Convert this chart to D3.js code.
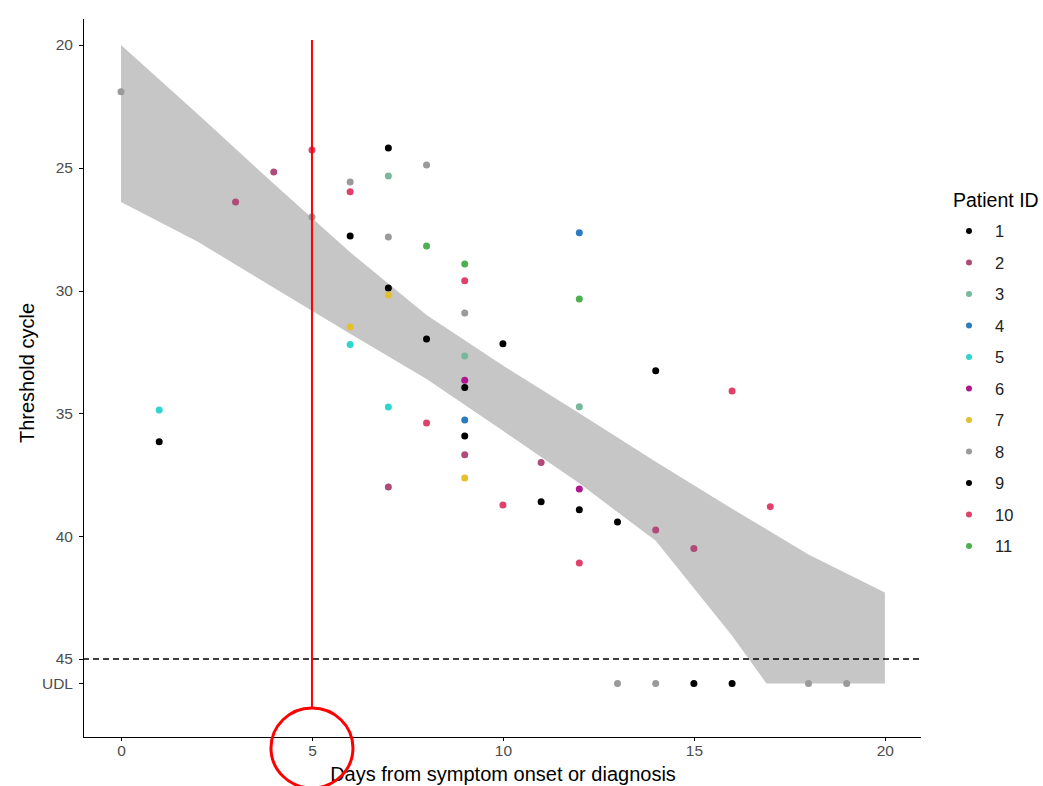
<!doctype html>
<meta charset="utf-8">
<style>
body { margin: 0; background: #fff; font-family: "Liberation Sans", Arial, sans-serif; }
.axis path, .axis line { stroke: #000; shape-rendering: crispEdges; }
.axis text { fill: #4d4d4d; font-size: 15.5px; font-family: "Liberation Sans", Arial, sans-serif; }
</style>
<body>
<script src="https://d3js.org/d3.v7.min.js"></script>
<script>
// values; UDL is plotted as Ct 46
var UDL = 46;
var patients = [1, 2, 3, 4, 5, 6, 7, 8, 9, 10, 11];
var patientColors = ["#000000", "#b04a78", "#78b89c", "#2c7bbf", "#2fd6cf", "#b0168f",
                     "#e6bf2e", "#9a9a9a", "#000000", "#e0406a", "#4cb050"];

var pointDay = [0, 1, 1, 3, 4, 5, 5,
  6, 6, 6, 6, 6,
  7, 7, 7, 7, 7, 7, 7,
  8, 8, 8, 8,
  9, 9, 9, 9, 9, 9, 9, 9, 9, 9,
  10, 10, 11, 11,
  12, 12, 12, 12, 12, 12,
  13, 13, 14, 14, 14, 15, 15, 16, 16, 17, 18, 19];
var pointCt = [21.9, 34.86, 36.16, 26.39, 25.17, 24.28, 27.0,
  25.58, 25.98, 27.78, 31.48, 32.2,
  24.19, 25.33, 27.82, 29.9, 30.18, 34.74, 38.0,
  24.89, 28.18, 31.97, 35.39,
  28.92, 29.6, 30.91, 32.66, 33.65, 33.95, 35.27, 35.92, 36.69, 37.63,
  32.17, 38.73, 37.0, 38.6,
  27.65, 30.34, 34.73, 38.08, 38.93, 41.09,
  39.42, UDL, 33.27, 39.75, UDL, 40.5, UDL, 34.09, UDL, 38.8, UDL, UDL];
var pointPatient = [8, 5, 1, 2, 2, 10, 8,
  8, 10, 1, 7, 5,
  9, 3, 8, 1, 7, 5, 2,
  8, 11, 9, 10,
  11, 10, 8, 3, 6, 9, 4, 1, 2, 7,
  9, 10, 2, 1,
  4, 11, 3, 6, 9, 10,
  1, 8, 9, 2, 8, 2, 1, 10, 9, 10, 8, 8];

// confidence band of the fitted trend (lower edge stops at UDL)
var bandDay = [0, 2, 4, 6, 8, 10, 12, 14, 16, 16.9, 18, 20];
var bandUpper = [20.0, 22.8, 25.65, 28.44, 30.99, 33.05, 35.0, 36.97, 38.88, 39.72, 40.75, 42.3];
var bandLower = [26.39, 28.0, 29.89, 31.76, 33.6, 35.71, 37.85, 40.19, 44.06, 46.0, 46.0, 46.0];

var xTicks = [0, 5, 10, 15, 20];
var yTicks = [20, 25, 30, 35, 40, 45, UDL];
var yTickLabels = ["20", "25", "30", "35", "40", "45", "UDL"];
var markDay = 5;

var width = 1043, height = 786;
var plotLeft = 83, plotRight = 920, plotTop = 18, plotBottom = 737;

var x = d3.scaleLinear().domain([-0.995, 20.92]).range([plotLeft, plotRight]);
var y = d3.scaleLinear().domain([18.9, 48.18]).range([plotTop, plotBottom]);

var svg = d3.select("body").append("svg")
  .attr("width", width)
  .attr("height", height);

// band
var band = d3.area()
  .x(function(d, i) { return x(bandDay[i]); })
  .y0(function(d, i) { return y(bandLower[i]); })
  .y1(function(d, i) { return y(bandUpper[i]); });

svg.append("path")
  .datum(bandDay)
  .attr("d", band)
  .style("fill", "#c6c6c6");

// 45 cycle cut-off
svg.append("line")
  .attr("x1", plotLeft).attr("x2", plotRight)
  .attr("y1", y(45)).attr("y2", y(45))
  .style("stroke", "#000")
  .style("stroke-width", 1.5)
  .style("stroke-dasharray", "6,4");

// points
svg.append("g").selectAll("circle")
  .data(pointDay)
  .enter().append("circle")
  .attr("cx", function(d) { return x(d); })
  .attr("cy", function(d, i) { return y(pointCt[i]); })
  .attr("r", 3.5)
  .style("fill", function(d, i) { return patientColors[pointPatient[i] - 1]; });

// axes
svg.append("g")
  .attr("class", "axis")
  .attr("transform", "translate(0," + plotBottom + ")")
  .call(d3.axisBottom(x).tickValues(xTicks).tickSize(4).tickSizeOuter(0).tickPadding(4));

svg.append("g")
  .attr("class", "axis")
  .attr("transform", "translate(" + plotLeft + ",0)")
  .call(d3.axisLeft(y).tickValues(yTicks).tickSize(4).tickSizeOuter(0).tickPadding(6)
    .tickFormat(function(d, i) { return yTickLabels[i]; }));

svg.selectAll(".axis .domain").style("stroke-width", 1.3);

// axis titles
svg.append("text")
  .attr("x", 503).attr("y", 781)
  .style("text-anchor", "middle")
  .style("font-size", "20px")
  .text("Days from symptom onset or diagnosis");

svg.append("text")
  .attr("transform", "translate(34," + 373 + ") rotate(-90)")
  .style("text-anchor", "middle")
  .style("font-size", "20px")
  .text("Threshold cycle");

// red marker at day 5
svg.append("line")
  .attr("x1", x(markDay)).attr("x2", x(markDay))
  .attr("y1", 40).attr("y2", 707)
  .style("stroke", "#ff0000")
  .style("stroke-width", 2);

svg.append("ellipse")
  .attr("cx", x(markDay)).attr("cy", 748)
  .attr("rx", 41).attr("ry", 40)
  .style("fill", "none")
  .style("stroke", "#ff0000")
  .style("stroke-width", 3);

// legend
var legend = svg.append("g").attr("transform", "translate(953,0)");
legend.append("text")
  .attr("x", 0).attr("y", 207)
  .style("font-size", "19.5px")
  .text("Patient ID");

var item = legend.selectAll(".item")
  .data(patients)
  .enter().append("g")
  .attr("class", "item")
  .attr("transform", function(d, i) { return "translate(0," + (231 + i * 31.5) + ")"; });

item.append("circle")
  .attr("cx", 16).attr("cy", 0).attr("r", 3)
  .style("fill", function(d, i) { return patientColors[i]; });

item.append("text")
  .attr("x", 42).attr("y", 6)
  .style("font-size", "16.5px")
  .style("fill", "#222")
  .text(function(d) { return d; });
</script>
</body>
